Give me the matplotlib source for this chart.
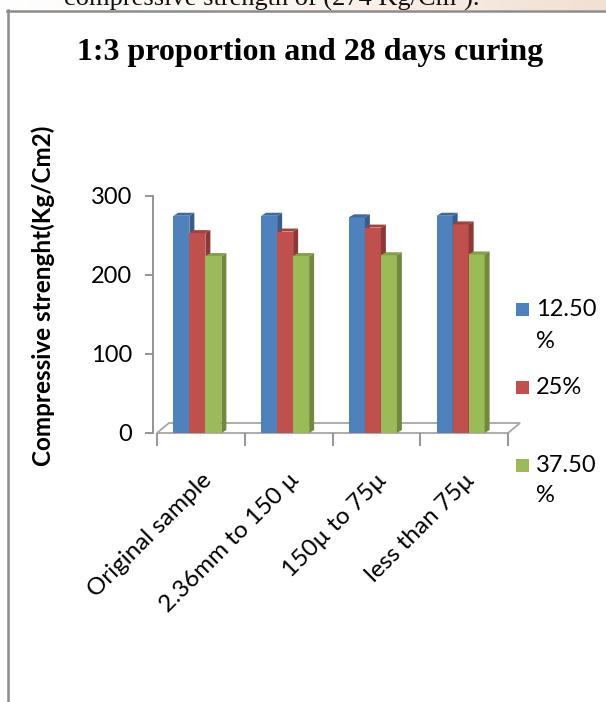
import numpy as np
import matplotlib.pyplot as plt
from matplotlib.patches import Polygon, Rectangle
from matplotlib.lines import Line2D
from matplotlib.colors import LinearSegmentedColormap

categories = ["Original sample", "2.36mm to 150 \u00b5", "150\u00b5 to 75\u00b5", "less than 75\u00b5"]
series_labels = ["12.50\n%", "25%", "37.50\n%"]
blue_vals = [275, 275, 273, 275]
red_vals = [253, 255, 260, 264]
green_vals = [224, 224, 225, 226]

front_cols = ["#4F81BD", "#C0504D", "#9BBB59"]
side_cols = ["#385D8A", "#8C3836", "#71893F"]
top_cols = ["#41699C", "#A0423F", "#84A04B"]

W, H = 606, 702
fig = plt.figure(figsize=(W / 100, H / 100), dpi=100)
fig.patch.set_facecolor("white")

def fx(px):
    return px / W

def fy(py):
    return 1 - py / H

# top strip of the page above the chart frame
strip = fig.add_axes([0, fy(10), 1, 10 / H])
grad = np.linspace(0, 1, 256)[None, :]
cm = LinearSegmentedColormap.from_list("pg", ["#FFFFFF", "#FBF4EE", "#F2E0D2"])
strip.imshow(grad, aspect="auto", cmap=cm, extent=[0, 1, 0, 1])
strip.set_axis_off()
fig.text(fx(64), fy(5), "compressive strength of (274 Kg/Cm\u00b2).", family="Liberation Serif",
         fontsize=19, va="baseline", ha="left", color="#111111")

# chart frame lines
fig.add_artist(Line2D([fx(7), 1], [fy(10.5), fy(10.5)], color="#8C8C8C", lw=1.8))
fig.add_artist(Line2D([fx(8), fx(8)], [fy(10), 0], color="#8C8C8C", lw=1.8))

plt.rcParams["font.family"] = ["Lato", "DejaVu Sans"]

fig.text(fx(310), fy(60), "1:3 proportion and 28 days curing", family="Liberation Serif",
         fontweight="bold", fontsize=23, ha="center", va="baseline")

ax = fig.add_axes([fx(157), fy(433), fx(508) - fx(157), (433 - 196) / H])
ax.set_xlim(-0.5, 3.5)
ax.set_ylim(0, 300)
ax.patch.set_alpha(0)

px_x = (508 - 157) / 4.0
px_y = (433 - 196) / 300.0
dx = 5 / px_x
dy = 3 / px_y
bw = 16 / px_x
shift = -3.5 / px_x

# floor of the 3D plot
fdx, fdy = 12 / px_x, 10 / px_y
floor = Polygon([(-0.5, 0), (3.5, 0), (3.5 + fdx, fdy), (-0.5 + fdx, fdy)], closed=True,
                facecolor="white", edgecolor="#A6A6A6", lw=1.3, clip_on=False, zorder=1)
ax.add_patch(floor)

x = np.arange(len(categories))
all_vals = [blue_vals, red_vals, green_vals]
for i, vals in enumerate(all_vals):
    xc = x + shift + (i - 1) * bw
    ax.bar(xc, vals, width=bw, color=front_cols[i], zorder=2 + i, linewidth=0)
    for xi, v in zip(xc, vals):
        xl, xr = xi - bw / 2, xi + bw / 2
        ax.add_patch(Polygon([(xr, 0), (xr, v), (xr + dx, v + dy), (xr + dx, dy)],
                             facecolor=side_cols[i], lw=0, zorder=2 + i, clip_on=False))
        ax.add_patch(Polygon([(xl, v), (xr, v), (xr + dx, v + dy), (xl + dx, v + dy)],
                             facecolor=top_cols[i], lw=0, zorder=2 + i, clip_on=False))

for s in ["top", "right", "bottom"]:
    ax.spines[s].set_visible(False)
ax.spines["left"].set_color("#8C8C8C")
ax.spines["left"].set_linewidth(1.3)
ax.spines["left"].set_position(("outward", 3))

ax.set_yticks([0, 100, 200, 300])
ax.tick_params(axis="y", length=6, color="#8C8C8C", width=1.3, pad=9, labelsize=17)
ax.set_xticks(np.arange(-0.5, 4, 1))
ax.tick_params(axis="x", which="major", length=9, color="#8C8C8C", width=1.3, labelbottom=False)
ax.set_xticks(x, minor=True)
ax.set_xticklabels(categories, minor=True, rotation=45, ha="right", va="top",
                   rotation_mode="anchor", fontsize=17.5)
ax.tick_params(axis="x", which="minor", length=0, pad=26)

fig.text(fx(43), fy(296), "Compressive strenght(Kg/Cm2)", rotation=90, fontweight="bold",
         fontsize=17.5, ha="center", va="center")

# legend, wrapped labels drawn line by line
leg_y = [310, 387, 465]
for lab, col, yy in zip(series_labels, front_cols, leg_y):
    fig.add_artist(Rectangle((fx(516), fy(yy + 6.5)), 13 / W, 13 / H, facecolor=col, lw=0))
    for k, part in enumerate(lab.split("\n")):
        fig.text(fx(536), fy(yy + 31 * k), part, fontsize=17, ha="left", va="center")

fig.savefig("out.png", dpi=100)
